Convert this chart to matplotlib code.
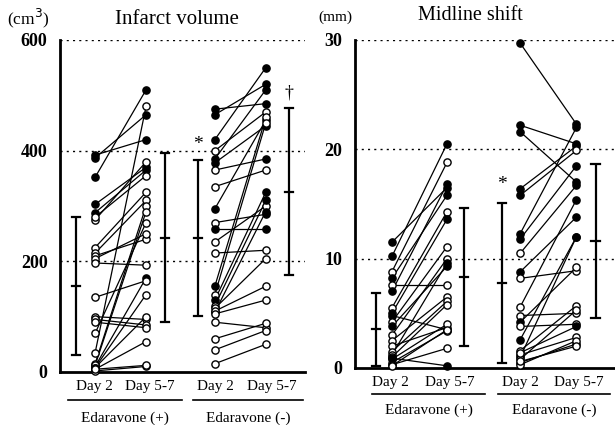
import matplotlib
matplotlib.use("Agg")
import matplotlib.pyplot as plt

plt.rcParams['font.family'] = ['Liberation Serif', 'DejaVu Serif']

# Infarct volume (cm3), Edaravone (+)
iv_pos_d2 = [392, 387, 352, 303, 288, 10, 275, 280, 225, 215, 210, 205, 197, 135,
             100, 95, 90, 70, 35, 15, 12, 8, 8, 5, 2, 5]
iv_pos_d57 = [420, 465, 510, 370, 365, 170, 380, 355, 325, 310, 240, 250, 193, 165,
              95, 85, 80, 270, 480, 300, 290, 140, 100, 55, 10, 12]
iv_pos_f2 = [1, 1, 1, 1, 1, 0, 0, 0, 0, 0, 0, 0, 0, 0, 0, 0, 0, 0, 0, 0, 0, 0, 0, 0, 0, 0]
iv_pos_f57 = [1, 1, 1, 1, 1, 1, 0, 0, 0, 0, 0, 0, 0, 0, 0, 0, 0, 0, 0, 0, 0, 0, 0, 0, 0, 0]

# Infarct volume (cm3), Edaravone (-)
iv_neg_d2 = [475, 465, 420, 400, 385, 378, 365, 335, 295, 270, 258, 235, 215, 155,
             140, 130, 120, 115, 108, 110, 105, 90, 60, 40, 15]
iv_neg_d57 = [485, 520, 550, 470, 510, 445, 385, 365, 455, 285, 258, 300, 220, 460,
              450, 325, 310, 205, 290, 155, 130, 80, 88, 75, 50]
iv_neg_f2 = [1, 1, 1, 0, 1, 1, 0, 0, 1, 0, 1, 0, 0, 1, 0, 1, 0, 0, 1, 0, 0, 0, 0, 0, 0]
iv_neg_f57 = [1, 1, 1, 0, 1, 1, 1, 0, 1, 1, 1, 0, 0, 0, 0, 1, 1, 0, 1, 0, 0, 0, 0, 0, 0]

# Midline shift (mm), Edaravone (+)
ms_pos_d2 = [11.5, 10.2, 8.8, 8.2, 7.6, 7.0, 5.5, 5.0, 4.8, 4.2, 3.8, 3.0, 2.5, 2.0,
             1.5, 1.2, 1.0, 0.8, 0.5, 0.3, 0.9, 0.2]
ms_pos_d57 = [16.5, 20.5, 18.8, 15.8, 7.6, 16.8, 14.3, 13.6, 3.5, 11.1, 9.3, 10.0, 6.5, 3.7,
              6.1, 9.6, 5.8, 4.0, 3.4, 1.8, 0.2, 3.5]
ms_pos_f2 = [1, 1, 0, 1, 0, 1, 0, 1, 1, 0, 1, 0, 0, 0, 0, 0, 0, 0, 0, 0, 1, 0]
ms_pos_f57 = [1, 1, 0, 1, 0, 1, 0, 1, 1, 0, 1, 0, 0, 0, 0, 1, 0, 0, 0, 0, 1, 0]

# Midline shift (mm), Edaravone (-)
ms_neg_d2 = [29.7, 22.2, 21.6, 16.4, 15.8, 12.3, 11.8, 10.5, 8.8, 8.2, 5.6, 4.8, 4.2, 3.8,
             2.6, 1.6, 1.2, 1.0, 0.8, 0.5, 0.3, 0.6, 1.4]
ms_neg_d57 = [22.3, 20.5, 17.0, 20.3, 19.9, 22.0, 18.5, 16.7, 13.8, 8.9, 15.4, 5.0, 9.2, 4.0,
              12.0, 5.7, 2.8, 12.0, 5.3, 2.2, 2.5, 2.0, 3.8]
ms_neg_f2 = [1, 1, 1, 1, 1, 1, 1, 0, 1, 0, 0, 0, 1, 0, 1, 0, 0, 1, 0, 1, 0, 0, 0]
ms_neg_f57 = [1, 1, 1, 1, 0, 1, 1, 1, 1, 0, 1, 0, 0, 0, 1, 0, 0, 1, 0, 0, 0, 0, 1]

# mean +/- SD, order: (+) Day 2, (+) Day 5-7, (-) Day 2, (-) Day 5-7
iv_mean = [155, 243, 243, 326]
iv_lo = [30, 90, 102, 176]
iv_hi = [280, 395, 384, 477]
ms_mean = [3.6, 8.3, 7.8, 11.6]
ms_lo = [0.15, 2.0, 0.5, 4.6]
ms_hi = [6.9, 14.6, 15.1, 18.7]

day_labels = ['Day 2', 'Day 5-7', 'Day 2', 'Day 5-7']
group_labels = ['Edaravone (+)', 'Edaravone (-)']


def draw_pairs(ax, x0, x1, d2, d57, f2, f57):
    for a, b, fa, fb in zip(d2, d57, f2, f57):
        ax.plot([x0, x1], [a, b], color='black', lw=0.9, zorder=2)
        ax.plot([x0], [a], 'o', ms=5.2, mec='black', mew=1.0,
                mfc='black' if fa else 'white', zorder=3, clip_on=False)
        ax.plot([x1], [b], 'o', ms=5.2, mec='black', mew=1.0,
                mfc='black' if fb else 'white', zorder=3, clip_on=False)


def draw_sd(ax, xs, means, lo, hi, cap):
    for x, m, l, h in zip(xs, means, lo, hi):
        ax.plot([x, x], [l, h], color='black', lw=1.6, solid_capstyle='butt')
        for y in (l, m, h):
            ax.plot([x - cap, x + cap], [y, y], color='black', lw=1.6)


def style_axes(ax, ymax, grid):
    ax.spines['top'].set_visible(False)
    ax.spines['right'].set_visible(False)
    ax.spines['left'].set_linewidth(2.0)
    ax.spines['bottom'].set_linewidth(2.0)
    ax.set_ylim(0, ymax)
    for g in grid:
        ax.axhline(g, color='black', lw=1.0, ls=(0, (1.5, 3)), zorder=1)
    ax.set_yticks([0] + grid)
    ax.tick_params(axis='y', length=0, pad=9, labelsize=13)
    for t in ax.get_yticklabels():
        t.set_fontweight('bold')
    ax.tick_params(axis='x', length=0, pad=6, labelsize=11)


fig = plt.figure(figsize=(6.15, 4.25), dpi=100)

# ---- Infarct volume ----
ax1 = fig.add_axes([60 / 615, 53 / 425, 245 / 615, 332 / 425])
pos1 = [1, 2, 3.35, 4.35]
draw_pairs(ax1, pos1[0], pos1[1], iv_pos_d2, iv_pos_d57, iv_pos_f2, iv_pos_f57)
draw_pairs(ax1, pos1[2], pos1[3], iv_neg_d2, iv_neg_d57, iv_neg_f2, iv_neg_f57)
bar1 = [pos1[0] - 0.37, pos1[1] + 0.37, pos1[2] - 0.33, pos1[3] + 0.45]
draw_sd(ax1, bar1, iv_mean, iv_lo, iv_hi, 0.08)
ax1.set_xlim(0.31, 5.12)
style_axes(ax1, 600, [200, 400, 600])
ax1.set_xticks([pos1[0] - 0.02, pos1[1] + 0.08, pos1[2] + 0.02, pos1[3] + 0.12])
ax1.set_xticklabels(day_labels)
ax1.text(bar1[2], 412, '*', ha='center', va='center', fontsize=14)
ax1.text(bar1[3], 505, '†', ha='center', va='center', fontsize=13)
fig.text(7 / 615, 1 - 18 / 425, '(cm$^3$)', fontsize=12.5, va='center')
fig.text(177 / 615, 1 - 20 / 425, 'Infarct volume', fontsize=15, ha='center', va='center')

# ---- Midline shift ----
ax2 = fig.add_axes([355 / 615, 57 / 425, 260 / 615, 328 / 425])
pos2 = [1, 2, 3.33, 4.35]
draw_pairs(ax2, pos2[0], pos2[1], ms_pos_d2, ms_pos_d57, ms_pos_f2, ms_pos_f57)
draw_pairs(ax2, pos2[2], pos2[3], ms_neg_d2, ms_neg_d57, ms_neg_f2, ms_neg_f57)
bar2 = [pos2[0] - 0.29, pos2[1] + 0.31, pos2[2] - 0.33, pos2[3] + 0.35]
draw_sd(ax2, bar2, ms_mean, ms_lo, ms_hi, 0.08)
ax2.set_xlim(0.33, 5.05)
style_axes(ax2, 30, [10, 20, 30])
ax2.set_xticks([pos2[0] - 0.02, pos2[1] + 0.05, pos2[2] + 0.0, pos2[3] + 0.05])
ax2.set_xticklabels(day_labels)
ax2.text(bar2[2], 16.8, '*', ha='center', va='center', fontsize=14)
fig.text(318 / 615, 1 - 17 / 425, '(mm)', fontsize=11, va='center')
fig.text(470 / 615, 1 - 15 / 425, 'Midline shift', fontsize=14.5, ha='center', va='center')

# group underlines and labels
for (x0, x1), lab, y_line, y_txt in [((68, 182), group_labels[0], 400, 418),
                                    ((193, 303), group_labels[1], 400, 418),
                                    ((372, 485), group_labels[0], 394, 410),
                                    ((498, 610), group_labels[1], 394, 410)]:
    fig.add_artist(plt.Line2D([x0 / 615, x1 / 615], [1 - y_line / 425] * 2,
                              color='black', lw=1.2))
    fig.text((x0 + x1) / 2 / 615, 1 - y_txt / 425, lab, fontsize=11,
             ha='center', va='center')

fig.savefig('out.png', dpi=100)
